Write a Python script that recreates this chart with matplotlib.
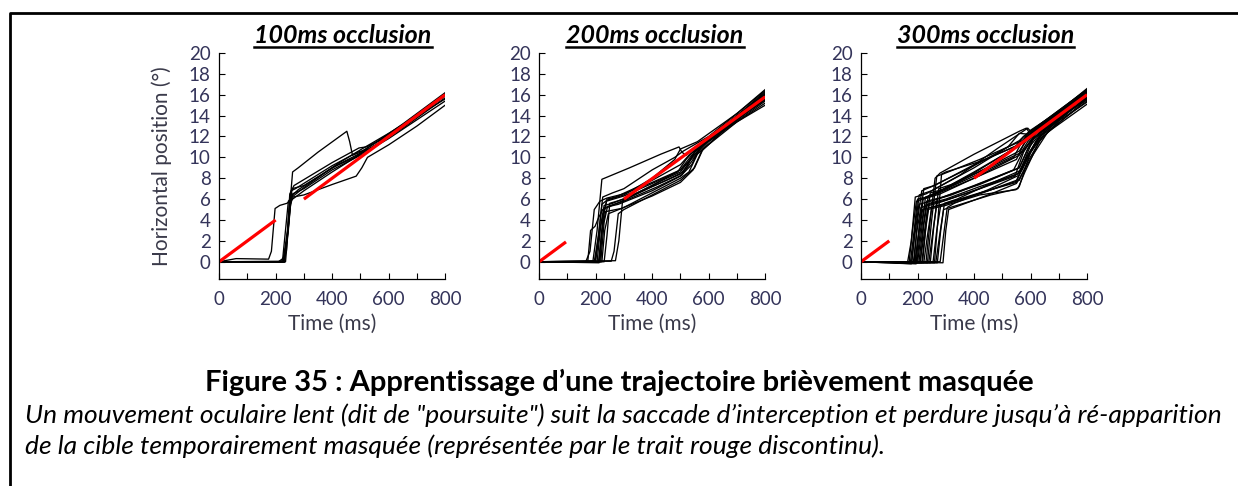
import matplotlib
matplotlib.use("Agg")
import matplotlib.pyplot as plt
from matplotlib.lines import Line2D

plt.rcParams['font.family'] = ['Lato', 'DejaVu Sans']

# --- data: eye position traces (time ms, position deg) per occlusion condition ---
traces_100 = [
    [(0, 0), (60, 0.3), (175, 0.25), (185, 1), (198, 5.1), (215, 5.4), (240, 5.6), (260, 6.0), (300, 6.8), (400, 8.6), (500, 10.3), (560, 11.3), (700, 14.0), (800, 15.9)],
    [(0, 0), (220, 0.0), (238, 1), (252, 6), (260, 8.6), (280, 9.0), (350, 10.5), (452, 12.5), (462, 11.5), (472, 10.2), (500, 10.5), (600, 12.2), (700, 14.1), (800, 16.0)],
    [(0, 0), (225, 0), (240, 2), (250, 6.5), (265, 7.3), (400, 9.5), (495, 10.9), (520, 11.0), (600, 12.0), (700, 14.0), (800, 16.1)],
    [(0, 0), (228, 0), (245, 3), (255, 6.8), (270, 7.0), (400, 9.2), (490, 10.5), (530, 10.8), (650, 12.8), (800, 15.7)],
    [(0, 0), (230, 0.05), (248, 4), (258, 7.0), (300, 7.3), (420, 9.3), (500, 10.4), (560, 11.2), (700, 13.9), (800, 15.9)],
    [(0, 0), (232, -0.05), (250, 5), (260, 6.5), (300, 7.0), (400, 8.8), (500, 10.2), (600, 11.8), (700, 13.6), (800, 15.4)],
    [(0, 0), (235, 0), (252, 5.5), (262, 6.2), (300, 6.4), (400, 7.4), (485, 8.2), (505, 9.0), (525, 10.0), (600, 11.2), (700, 13.0), (800, 15.0)],
    [(0, 0), (226, 0), (242, 3), (252, 6.2), (280, 6.9), (400, 9.0), (480, 10.0), (510, 10.6), (650, 13.2), (800, 16.2)],
    [(0, 0), (210, 0), (225, 0.3), (245, 5.8), (258, 6.2), (300, 7.1), (420, 9.4), (505, 10.8), (600, 12.3), (800, 15.6)],
]

traces_200 = [
    [(0, 0), (165, 0), (180, 1), (195, 5), (215, 5.8), (240, 6.1), (300, 6.5), (400, 7.6), (500, 8.8), (540, 10.2), (600, 11.8), (700, 13.8), (800, 16.0)],
    [(0, 0), (190, 0), (205, 3), (222, 7.9), (240, 8.1), (320, 9.0), (430, 10.3), (495, 11.0), (505, 10.5), (520, 10.2), (600, 11.9), (700, 14.0), (800, 16.3)],
    [(0, 0), (195, 0), (210, 2.5), (222, 5.5), (240, 5.9), (300, 6.4), (400, 8.0), (480, 9.8), (500, 10.8), (560, 11.5), (700, 14.2), (800, 16.5)],
    [(0, 0), (200, 0.1), (215, 3), (230, 5.4), (260, 5.6), (350, 6.6), (450, 7.8), (510, 8.6), (550, 10.5), (600, 11.6), (700, 13.7), (800, 15.8)],
    [(0, 0), (205, 0), (218, 3.5), (232, 5.2), (280, 5.5), (400, 6.8), (500, 8.2), (540, 9.3), (570, 11.0), (650, 12.7), (800, 15.5)],
    [(0, 0), (210, 0), (222, 3), (235, 4.8), (290, 5.1), (400, 6.3), (500, 7.6), (545, 8.8), (575, 10.6), (650, 12.5), (800, 15.2)],
    [(0, 0), (212, -0.1), (225, 4), (238, 5.8), (300, 6.3), (400, 7.5), (490, 8.6), (520, 9.8), (560, 11.0), (700, 13.9), (800, 16.1)],
    [(0, 0), (215, 0), (228, 4.5), (240, 6.0), (270, 6.2), (400, 7.8), (500, 9.3), (530, 10.2), (620, 12.1), (800, 16.0)],
    [(0, 0), (218, 0), (230, 3.8), (242, 5.3), (300, 5.8), (420, 7.2), (505, 8.3), (550, 10.0), (580, 11.2), (700, 13.6), (800, 15.6)],
    [(0, 0), (255, 0.05), (265, 1), (280, 4.6), (300, 5.0), (400, 6.4), (500, 7.8), (550, 9.0), (580, 10.8), (700, 13.4), (800, 15.0)],
    [(0, 0), (270, 0.1), (282, 2), (295, 5.8), (320, 6.2), (420, 7.6), (500, 8.6), (540, 10.0), (600, 11.7), (800, 16.2)],
    [(0, 0), (222, 0), (232, 3), (245, 4.6), (300, 5.2), (400, 6.6), (500, 8.0), (530, 8.6), (560, 10.3), (650, 12.5), (800, 15.7)],
    [(0, 0), (198, 0), (212, 3), (225, 6.2), (260, 6.6), (300, 7.0), (400, 8.8), (480, 10.0), (510, 10.6), (600, 12.0), (800, 16.4)],
    [(0, 0), (172, 0), (182, 3.0), (198, 3.4), (210, 4.2), (225, 5.0), (300, 5.9), (400, 7.2), (500, 8.4), (525, 9.2), (555, 10.8), (700, 14.0), (800, 16.0)],
    [(0, 0), (230, 0), (240, 2.5), (250, 5.6), (300, 6.0), (400, 7.3), (500, 8.8), (530, 9.6), (600, 11.5), (800, 15.4)],
]

traces_300 = [
    [(0, 0), (165, 0), (178, 2), (192, 6.2), (230, 6.5), (350, 8.3), (480, 10.8), (590, 12.8), (600, 12.5), (640, 13.3), (800, 16.5)],
    [(0, 0), (170, -0.1), (182, 3), (196, 5.8), (240, 6.2), (400, 8.5), (550, 11.0), (580, 11.8), (620, 12.8), (800, 16.2)],
    [(0, 0), (175, 0), (188, 3), (200, 6.0), (250, 6.3), (400, 8.0), (560, 10.2), (590, 11.5), (640, 13.0), (800, 16.4)],
    [(0, 0), (178, -0.2), (190, 2.5), (205, 5.5), (260, 5.9), (400, 7.3), (540, 8.8), (570, 10.4), (620, 12.3), (800, 16.0)],
    [(0, 0), (180, 0), (192, 3.5), (206, 6.4), (250, 6.8), (400, 9.0), (520, 11.0), (560, 12.3), (600, 12.2), (700, 14.3), (800, 16.3)],
    [(0, 0), (185, -0.1), (198, 3), (212, 5.2), (270, 5.6), (400, 6.8), (545, 8.2), (575, 10.5), (620, 12.4), (800, 15.9)],
    [(0, 0), (188, 0), (200, 4), (215, 6.8), (250, 7.2), (400, 9.2), (560, 11.6), (600, 12.6), (700, 14.4), (800, 16.6)],
    [(0, 0), (190, -0.1), (203, 2.5), (218, 5.0), (300, 5.6), (420, 6.6), (550, 7.6), (575, 9.5), (610, 11.8), (700, 13.9), (800, 15.5)],
    [(0, 0), (192, 0), (205, 3), (220, 6.0), (280, 6.5), (400, 8.0), (550, 9.8), (580, 11.5), (640, 12.9), (800, 16.1)],
    [(0, 0), (195, -0.2), (208, 4), (222, 7.0), (260, 7.3), (400, 9.3), (565, 11.3), (590, 12.3), (700, 14.2), (800, 16.0)],
    [(0, 0), (198, 0), (210, 3), (225, 5.4), (300, 5.9), (420, 7.0), (560, 8.5), (590, 10.2), (640, 12.4), (800, 15.7)],
    [(0, 0), (200, -0.1), (212, 2.5), (228, 6.2), (270, 6.6), (400, 8.2), (540, 10.0), (570, 11.5), (620, 12.7), (800, 16.3)],
    [(0, 0), (205, 0), (218, 3), (232, 5.8), (290, 6.2), (420, 7.4), (560, 9.0), (600, 11.4), (650, 13.0), (800, 16.2)],
    [(0, 0), (208, -0.1), (220, 2), (235, 5.0), (300, 5.4), (420, 6.4), (548, 6.9), (560, 7.2), (600, 10.5), (650, 12.3), (800, 15.4)],
    [(0, 0), (210, 0), (222, 3.5), (238, 6.3), (280, 6.8), (400, 8.6), (540, 10.8), (575, 12.0), (650, 13.3), (800, 16.4)],
    [(0, 0), (215, -0.1), (228, 3), (242, 5.6), (300, 6.0), (420, 7.2), (555, 8.4), (585, 10.0), (630, 12.0), (800, 15.8)],
    [(0, 0), (218, 0), (232, 4), (245, 6.6), (300, 7.0), (430, 8.8), (560, 10.6), (590, 11.8), (700, 14.1), (800, 16.1)],
    [(0, 0), (222, -0.1), (235, 2.5), (250, 5.2), (310, 5.6), (430, 6.6), (550, 7.8), (580, 9.4), (620, 11.6), (700, 13.7), (800, 15.6)],
    [(0, 0), (230, 0), (245, 4), (262, 8.0), (280, 8.5), (400, 10.3), (560, 12.5), (585, 12.8), (595, 12.4), (700, 14.5), (800, 16.5)],
    [(0, 0), (235, -0.1), (250, 4), (268, 8.2), (290, 8.4), (420, 9.8), (570, 11.6), (600, 12.3), (700, 14.3), (800, 16.2)],
    [(0, 0), (240, 0), (255, 3), (270, 6.0), (320, 6.4), (450, 7.8), (560, 9.0), (590, 10.8), (640, 12.5), (800, 16.0)],
    [(0, 0), (245, -0.1), (258, 3.5), (275, 7.0), (320, 7.4), (450, 9.0), (570, 10.5), (600, 11.6), (700, 14.0), (800, 15.9)],
    [(0, 0), (255, 0), (268, 3), (282, 5.4), (330, 5.8), (450, 6.8), (560, 7.8), (590, 9.6), (640, 11.9), (800, 15.6)],
    [(0, 0), (260, -0.1), (272, 4), (285, 8.4), (300, 8.6), (420, 9.6), (560, 11.2), (590, 12.0), (700, 14.2), (800, 16.3)],
    [(0, 0), (265, 0), (278, 2.5), (292, 5.0), (340, 5.4), (460, 6.4), (555, 7.0), (580, 8.6), (630, 11.5), (700, 13.5), (800, 15.3)],
    [(0, 0), (270, -0.1), (282, 3), (295, 5.6), (340, 6.0), (450, 7.4), (570, 8.8), (600, 10.6), (650, 12.6), (800, 16.0)],
    [(0, 0), (280, 0), (292, 2.5), (305, 5.2), (330, 5.6), (450, 6.9), (560, 8.3), (590, 10.0), (640, 12.2), (800, 15.8)],
    [(0, 0), (290, -0.1), (300, 3), (310, 5.0), (340, 5.3), (460, 6.5), (550, 7.5), (610, 10.3), (660, 12.4), (800, 15.1)],
]

# target position, visible parts only (before and after the occlusion)
target_100 = [[(0, 0), (200, 4)], [(300, 6), (800, 16)]]
target_200 = [[(0, 0), (95, 1.9)], [(300, 6), (800, 15.8)]]
target_300 = [[(0, 0), (100, 2.0)], [(400, 8), (800, 16)]]

titles = ["100ms occlusion", "200ms occlusion", "300ms occlusion"]
x_ticks = [0, 200, 400, 600, 800]
y_ticks = [0, 2, 4, 6, 8, 10, 12, 14, 16, 18, 20]

caption_title = "Figure 35 : Apprentissage d\u2019une trajectoire bri\u00e8vement masqu\u00e9e"
caption_lines = [
    "Un mouvement oculaire lent (dit de \"poursuite\") suit la saccade d\u2019interception et perdure jusqu\u2019\u00e0 r\u00e9-apparition",
    "de la cible temporairement masqu\u00e9e (repr\u00e9sent\u00e9e par le trait rouge discontinu).",
]

panels = [(traces_100, target_100), (traces_200, target_200), (traces_300, target_300)]
lefts = [0.177, 0.4355, 0.6955]
tick_col = "#34345a"

fig = plt.figure(figsize=(12.38, 4.86), dpi=100)

for i, (traces, target) in enumerate(panels):
    ax = fig.add_axes([lefts[i], 0.426, 0.1826, 0.465])
    for tr in traces:
        t, y = zip(*tr)
        ax.plot(t, y, color="black", lw=0.95)
    for seg in target:
        t, y = zip(*seg)
        ax.plot(t, y, color="red", lw=2.3, solid_capstyle="butt")
    ax.set_xlim(0, 800)
    ax.set_ylim(-1.65, 20)
    ax.spines["top"].set_visible(False)
    ax.spines["right"].set_visible(False)
    ax.spines["left"].set_bounds(-1.65, 20)
    ax.set_xticks(range(0, 801, 100))
    ax.set_xticklabels([str(v) if v in x_ticks else "" for v in range(0, 801, 100)])
    ax.set_yticks(y_ticks)
    ax.tick_params(direction="in", length=4, width=0.8, labelsize=13.5,
                   labelcolor=tick_col)
    ax.tick_params(axis="x", pad=9)
    ax.tick_params(axis="y", pad=6)
    ax.set_xlabel("Time (ms)", fontsize=15, color="#3a3a4a", labelpad=4)
    if i == 0:
        ax.set_ylabel("Horizontal position (\u00b0)", fontsize=15, color="#3a3a4a", labelpad=12)
    for s in ax.spines.values():
        s.set_linewidth(0.9)

# panel titles, bold italic and underlined
title_x = [0.277, 0.529, 0.796]
title_texts = []
for x, s in zip(title_x, titles):
    title_texts.append(fig.text(x, 0.926, s, ha="center", va="center",
                                fontsize=18, fontweight="bold", fontstyle="italic"))

fig.text(0.5, 0.214, caption_title, ha="center", va="center", fontsize=21, fontweight="bold")
fig.text(0.020, 0.146, caption_lines[0], ha="left", va="center", fontsize=19, fontstyle="italic")
fig.text(0.020, 0.082, caption_lines[1], ha="left", va="center", fontsize=19, fontstyle="italic")

# frame around the figure (left and top edges)
fx = 10 / 1238
fy = 1 - 13 / 486
fig.add_artist(Line2D([fx, fx, 1], [0, fy, fy], color="black", lw=2))

fig.canvas.draw()
rend = fig.canvas.get_renderer()
uy = 1 - 47.5 / 486
for t in title_texts:
    bb = t.get_window_extent(rend).transformed(fig.transFigure.inverted())
    fig.add_artist(Line2D([bb.x0, bb.x1], [uy, uy], color="black", lw=1.8))

fig.savefig("out.png", dpi=100)
